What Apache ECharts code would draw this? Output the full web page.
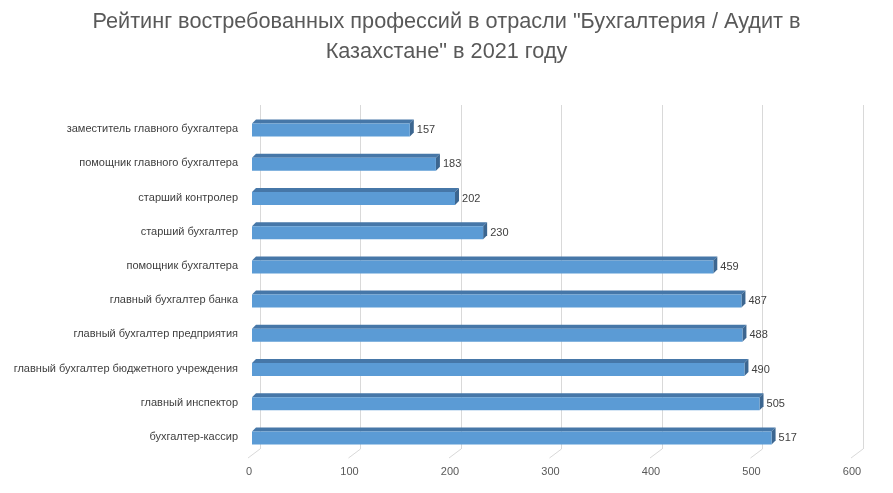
<!DOCTYPE html>
<html>
<head>
<meta charset="utf-8">
<script src="https://cdn.jsdelivr.net/npm/echarts@6/dist/echarts.min.js"></script>
<style>
  html, body { margin: 0; padding: 0; background: #fff; }
  #main { width: 893px; height: 493px; }
</style>
</head>
<body>
<div id="main"></div>
<script>
// professions, top to bottom
var professions = [
  'заместитель главного бухгалтера',
  'помощник главного бухгалтера',
  'старший контролер',
  'старший бухгалтер',
  'помощник бухгалтера',
  'главный бухгалтер банка',
  'главный бухгалтер предприятия',
  'главный бухгалтер бюджетного учреждения',
  'главный инспектор',
  'бухгалтер-кассир'
];
var counts = [157, 183, 202, 230, 459, 487, 488, 490, 505, 517];
var xTicks = [0, 100, 200, 300, 400, 500, 600];

var FONT = '"Liberation Sans Narrow", "Liberation Sans", sans-serif';
var DX = 4, DY = 4, BAR_H = 13;

var chart = echarts.init(document.getElementById('main'));

// 3d bar: front face + top + right side
function renderBar(params, api) {
  var idx = api.value(0);
  var val = api.value(1);
  var p0 = api.coord([0, idx]);
  var p1 = api.coord([val, idx]);
  var x0 = p0[0], x1 = p1[0];
  var y = p0[1] - BAR_H / 2 + 1;
  return {
    type: 'group',
    children: [
      {
        type: 'polygon',
        shape: { points: [[x0, y], [x0 + DX, y - DY], [x1 + DX, y - DY], [x1, y]] },
        style: { fill: '#4677a8' }
      },
      {
        type: 'polygon',
        shape: { points: [[x1, y], [x1 + DX, y - DY], [x1 + DX, y + BAR_H - DY], [x1, y + BAR_H]] },
        style: { fill: '#3c6690' }
      },
      {
        type: 'rect',
        shape: { x: x0, y: y, width: x1 - x0, height: BAR_H },
        style: { fill: '#5b9bd5' }
      },
      {
        type: 'text',
        style: {
          text: String(val),
          x: x1 + DX + 3, y: p0[1] + 1,
          verticalAlign: 'middle', align: 'left',
          fill: '#404040', fontSize: 11, fontFamily: FONT
        }
      }
    ]
  };
}

// floor lines under each wall gridline
function renderFloor(params, api) {
  var v = api.value(0);
  var x = api.coord([v, 0])[0];
  var yb = params.coordSys.y + params.coordSys.height;
  return {
    type: 'line',
    shape: { x1: x, y1: yb, x2: x - 12, y2: yb + 9 },
    style: { stroke: '#d9d9d9', lineWidth: 1 }
  };
}

var option = {
  backgroundColor: '#fff',
  animation: false,
  title: {
    text: 'Рейтинг востребованных профессий в отрасли "Бухгалтерия / Аудит в\nКазахстане" в 2021 году',
    left: 'center',
    top: 2,
    textStyle: {
      fontFamily: FONT, fontSize: 21.7, fontWeight: 'normal',
      color: '#595959', lineHeight: 30, align: 'center'
    }
  },
  grid: [
    { left: 260, top: 105, width: 603, height: 344 },
    { left: 252, top: 112, width: 603, height: 342 },
    { left: 249, top: 112, width: 603, height: 346 }
  ],
  xAxis: [
    {
      gridIndex: 0, type: 'value', min: 0, max: 600, interval: 100,
      axisLine: { show: false }, axisTick: { show: false }, axisLabel: { show: false },
      splitLine: { show: true, lineStyle: { color: '#d9d9d9' } }
    },
    {
      gridIndex: 1, type: 'value', min: 0, max: 600, interval: 100,
      axisLine: { show: false }, axisTick: { show: false }, axisLabel: { show: false },
      splitLine: { show: false }
    },
    {
      gridIndex: 2, type: 'value', min: 0, max: 600, interval: 100,
      axisLine: { show: false }, axisTick: { show: false }, splitLine: { show: false },
      axisLabel: { margin: 8, color: '#595959', fontSize: 11, fontFamily: FONT }
    }
  ],
  yAxis: [
    {
      gridIndex: 0, type: 'category', data: professions, inverse: true,
      axisLine: { show: false }, axisTick: { show: false }, axisLabel: { show: false }
    },
    {
      gridIndex: 1, type: 'category', data: professions, inverse: true,
      axisLine: { show: false }, axisTick: { show: false },
      axisLabel: { margin: 14, color: '#404040', fontSize: 11, fontFamily: FONT }
    },
    {
      gridIndex: 2, type: 'category', data: professions, inverse: true, show: false
    }
  ],
  series: [
    {
      type: 'custom',
      xAxisIndex: 0, yAxisIndex: 0,
      renderItem: renderFloor,
      data: xTicks.map(function (t) { return [t]; }),
      silent: true
    },
    {
      type: 'custom',
      xAxisIndex: 1, yAxisIndex: 1,
      renderItem: renderBar,
      encode: { x: 1, y: 0 },
      data: counts.map(function (c, i) { return [i, c]; }),
      silent: true
    }
  ]
};

chart.setOption(option);
window.onresize = function () { chart.resize(); };
</script>
</body>
</html>
